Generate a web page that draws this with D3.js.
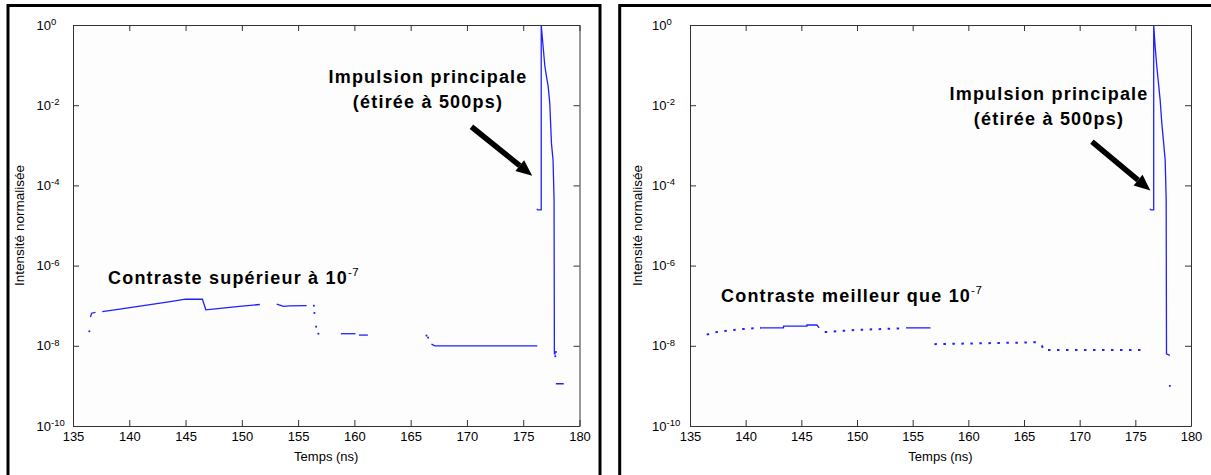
<!DOCTYPE html>
<html>
<head>
<meta charset="utf-8">
<script src="https://cdn.jsdelivr.net/npm/d3@7"></script>
<style>
  html, body { margin: 0; padding: 0; background: #ffffff; }
  svg { display: block; }
  text { font-family: "Liberation Sans", Arial, sans-serif; }
</style>
</head>
<body>
<svg id="chart" width="1211" height="475"></svg>
<script>
// ---------------- DATA ----------------
const xTickValues = [135, 140, 145, 150, 155, 160, 165, 170, 175, 180];
const yTickExponents = [0, -2, -4, -6, -8, -10];
const xDomain = [135, 180];
const yDomain = [1e-10, 1];

const xAxisTitle = "Temps (ns)";
const yAxisTitle = "Intensité normalisée";
const pulseLabel = ["Impulsion principale", "(étirée à 500ps)"];
const leftContrastLabel = "Contraste supérieur à 10";
const rightContrastLabel = "Contraste meilleur que 10";
const contrastExponent = "-7";

// Left panel trace: [time (ns), normalised intensity]
const leftSegments = [
  [[136.55, 5.2e-8], [136.65, 6.5e-8], [137.0, 6.8e-8]],
  [[137.6, 7.1e-8], [139.0, 8.1e-8], [140.5, 9.4e-8], [142.0, 1.08e-7], [143.5, 1.25e-7],
   [145.0, 1.45e-7], [146.5, 1.45e-7], [146.8, 7.9e-8], [148.5, 8.8e-8], [150.0, 9.8e-8], [151.6, 1.07e-7]],
  [[153.1, 1.1e-7], [153.7, 9.6e-8], [154.2, 9.9e-8], [155.75, 1.0e-7]],
  [[158.8, 2.0e-8], [160.1, 2.0e-8]],
  [[160.4, 1.85e-8], [161.2, 1.85e-8]],
  [[166.85, 1.1e-8], [167.15, 1.0e-8], [176.25, 1.0e-8]],
  [[176.2, 2.6e-5], [176.3, 2.45e-5], [176.6, 2.45e-5], [176.6, 1], [176.92, 0.095], [177.07, 0.051],
   [177.22, 0.029], [177.36, 0.011], [177.51, 1.1e-3], [177.65, 4.3e-4], [177.74, 4.4e-5],
   [177.77, 6.3e-9], [177.9, 6.3e-9]],
  [[177.9, 1.13e-9], [178.6, 1.13e-9]]
];
const leftDots = [
  [136.45, 2.3e-8], [156.4, 1.0e-7], [156.45, 6.6e-8], [156.6, 3.0e-8], [156.8, 2.0e-8],
  [166.4, 1.8e-8], [166.55, 1.6e-8], [177.85, 5.5e-9], [177.9, 7e-9]
];

// Right panel trace
const rightSolidSegments = [
  [[141.4, 2.8e-8], [143.4, 2.8e-8], [143.4, 3.1e-8], [145.5, 3.1e-8], [145.5, 3.3e-8], [146.4, 3.3e-8], [146.6, 2.8e-8]],
  [[154.4, 2.8e-8], [156.6, 2.8e-8]],
  [[176.3, 2.6e-5], [176.4, 2.45e-5], [176.65, 2.45e-5], [176.65, 1], [176.78, 0.29], [176.93, 0.091],
   [177.08, 0.035], [177.23, 0.0135], [177.38, 3.5e-3], [177.52, 1.35e-3], [177.68, 4.3e-4],
   [177.77, 4.4e-5], [177.8, 6.3e-9], [178.1, 5.8e-9]]
];
const rightDottedSegments = [
  [[136.5, 1.9e-8], [137.4, 2.2e-8], [139.5, 2.6e-8], [141.4, 2.8e-8]],
  [[147.1, 2.2e-8], [150.0, 2.5e-8], [153.8, 2.7e-8]],
  [[156.95, 1.1e-8], [164.5, 1.2e-8], [166.0, 1.23e-8], [166.6, 1.0e-8], [166.8, 7.9e-9], [175.9, 7.9e-9]]
];
const rightDots = [[178.1, 1.0e-9]];

// Arrow anchors (data coordinates: time, intensity)
const leftArrow = [[170.4, 2.9e-3], [175.8, 1.75e-4]];
const rightArrow = [[171.1, 1.23e-3], [176.35, 7.5e-5]];

// ---------------- LAYOUT ----------------
const svg = d3.select("#chart");
const BLUE = "#2020ff";

const panels = [
  {
    border: {x: 8, y: 5.5, w: 592, h: 520},
    plot: {x0: 73, x1: 579.5, y0: 25, y1: 426},
    segments: leftSegments, dotted: [], dots: leftDots,
    pulseCenter: 428, pulseY: 83,
    arrow: leftArrow,
    contrast: leftContrastLabel, contrastX: 108, contrastY: 284,
    yTitleX: 20, yLabelX: 36.5
  },
  {
    border: {x: 619.7, y: 5.5, w: 640, h: 520},
    plot: {x0: 690, x1: 1191, y0: 25, y1: 426},
    segments: rightSolidSegments, dotted: rightDottedSegments, dots: rightDots,
    pulseCenter: 1049, pulseY: 100,
    arrow: rightArrow,
    contrast: rightContrastLabel, contrastX: 721, contrastY: 302,
    yTitleX: 638, yLabelX: 652
  }
];

panels.forEach((p, i) => {
  const g = svg.append("g");
  const P = p.plot;

  g.append("rect")
    .attr("x", p.border.x).attr("y", p.border.y)
    .attr("width", p.border.w).attr("height", p.border.h)
    .attr("fill", "#ffffff").attr("stroke", "#000").attr("stroke-width", 3);

  const x = d3.scaleLinear().domain(xDomain).range([P.x0, P.x1]);
  const y = d3.scaleLog().domain(yDomain).range([P.y1, P.y0]);

  g.append("rect")
    .attr("x", P.x0).attr("y", P.y0)
    .attr("width", P.x1 - P.x0).attr("height", P.y1 - P.y0)
    .attr("fill", "#fdfdfd").attr("stroke", "none");

  const clipId = "clip" + i;
  g.append("clipPath").attr("id", clipId)
    .append("rect").attr("x", P.x0).attr("y", P.y0 - 1)
    .attr("width", P.x1 - P.x0).attr("height", P.y1 - P.y0 + 1);

  const line = d3.line().x(d => x(d[0])).y(d => y(d[1]));
  const traces = g.append("g").attr("clip-path", `url(#${clipId})`);

  traces.selectAll("path.solid").data(p.segments).join("path")
    .attr("class", "solid")
    .attr("d", line)
    .attr("fill", "none").attr("stroke", BLUE).attr("stroke-width", 1.3);

  traces.selectAll("path.dotted").data(p.dotted).join("path")
    .attr("class", "dotted")
    .attr("d", line)
    .attr("fill", "none").attr("stroke", BLUE).attr("stroke-width", 2)
    .attr("stroke-dasharray", "2.5,6.5");

  traces.selectAll("rect.dot").data(p.dots).join("rect")
    .attr("class", "dot")
    .attr("x", d => x(d[0]) - 0.9).attr("y", d => y(d[1]) - 0.9)
    .attr("width", 1.8).attr("height", 1.8).attr("fill", BLUE);

  const axisStyle = sel => {
    sel.select(".domain").attr("stroke", "#333").attr("stroke-width", 1);
    sel.selectAll(".tick line").attr("stroke", "#333").attr("stroke-width", 1);
  };
  const tickSize = 6;
  g.append("g").attr("transform", `translate(0,${P.y1})`)
    .call(d3.axisBottom(x).tickValues(xTickValues).tickSizeInner(-tickSize).tickSizeOuter(0).tickPadding(6).tickFormat(d3.format("d")))
    .call(axisStyle)
    .call(s => s.selectAll(".tick text").attr("font-size", 13).attr("fill", "#000")
      .attr("font-family", "Liberation Sans, Arial, sans-serif"));
  g.append("g").attr("transform", `translate(0,${P.y0})`)
    .call(d3.axisTop(x).tickValues(xTickValues).tickSizeInner(-tickSize).tickSizeOuter(0).tickFormat(""))
    .call(axisStyle);
  g.append("g").attr("transform", `translate(${P.x0},0)`)
    .call(d3.axisLeft(y).tickValues(yTickExponents.map(e => Math.pow(10, e))).tickSizeInner(-tickSize).tickSizeOuter(0).tickFormat(""))
    .call(axisStyle);
  g.append("g").attr("transform", `translate(${P.x1},0)`)
    .call(d3.axisRight(y).tickValues(yTickExponents.map(e => Math.pow(10, e))).tickSizeInner(-tickSize).tickSizeOuter(0).tickFormat(""))
    .call(axisStyle);

  const yl = g.append("g");
  yTickExponents.forEach(e => {
    const t = yl.append("text")
      .attr("x", p.yLabelX).attr("y", y(Math.pow(10, e)) + 4.5)
      .attr("font-size", 13).attr("fill", "#000");
    t.append("tspan").text("10");
    t.append("tspan").attr("dy", -4.5).attr("font-size", 9.5).text(String(e));
  });

  g.append("text")
    .attr("x", (P.x0 + P.x1) / 2).attr("y", 461)
    .attr("text-anchor", "middle").attr("font-size", 13).attr("fill", "#000")
    .text(xAxisTitle);
  g.append("text")
    .attr("transform", `translate(${p.yTitleX + 4},${(P.y0 + P.y1) / 2}) rotate(-90)`)
    .attr("text-anchor", "middle").attr("font-size", 13.5).attr("fill", "#000")
    .text(yAxisTitle);

  const ann = g.append("g").attr("font-weight", "bold").attr("fill", "#000").attr("font-size", 18)
    .attr("letter-spacing", 1.2);
  ann.append("text").attr("x", p.pulseCenter).attr("y", p.pulseY)
    .attr("text-anchor", "middle").text(pulseLabel[0]);
  ann.append("text").attr("x", p.pulseCenter).attr("y", p.pulseY + 25)
    .attr("text-anchor", "middle").text(pulseLabel[1]);

  const ct = ann.append("text").attr("x", p.contrastX).attr("y", p.contrastY);
  ct.append("tspan").text(p.contrast);
  ct.append("tspan").attr("dy", -8).attr("font-size", 11.5).attr("font-weight", "normal")
    .attr("letter-spacing", 0.5).text(contrastExponent);

  const [a0, a1] = p.arrow;
  const sx = x(a0[0]), sy = y(a0[1]), ex = x(a1[0]), ey = y(a1[1]);
  const ang = Math.atan2(ey - sy, ex - sx);
  const headLen = 16, headW = 7;
  const bx = ex - headLen * Math.cos(ang), by = ey - headLen * Math.sin(ang);
  g.append("line")
    .attr("x1", sx).attr("y1", sy).attr("x2", bx).attr("y2", by)
    .attr("stroke", "#000").attr("stroke-width", 5.5);
  const nx = -Math.sin(ang), ny = Math.cos(ang);
  g.append("path")
    .attr("d", `M${ex},${ey} L${bx + nx * headW},${by + ny * headW} L${bx - nx * headW},${by - ny * headW} Z`)
    .attr("fill", "#000");
});
</script>
</body>
</html>
